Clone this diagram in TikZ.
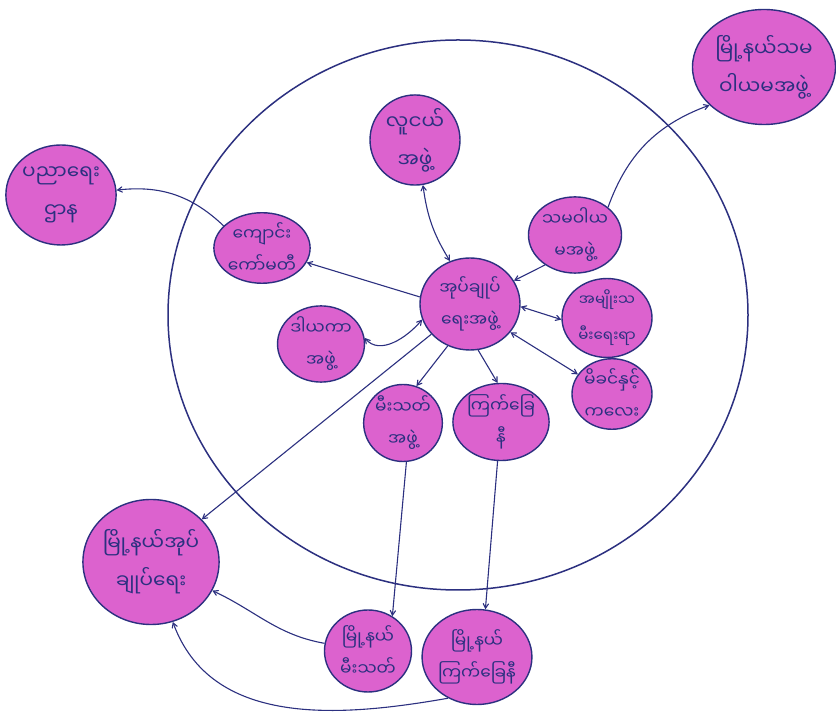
\documentclass[tikz,border=0pt]{standalone}
\usepackage{fontspec}
\usepackage{tikz}
\usetikzlibrary{arrows,shapes.geometric,calc}
\newfontfamily\mmfont[Script=Myanmar]{Noto Sans Myanmar UI}
\definecolor{hs_pink}{RGB}{220, 98, 206}
\definecolor{hs_ink}{RGB}{44, 48, 128}
\tikzstyle{pn}=[ellipse,fill=hs_pink,draw=hs_ink,line width=1.4pt,
  inner sep=0pt,text=hs_ink,align=center,font=\mmfont\fontsize{17}{32}\selectfont]
\tikzstyle{big}=[font=\mmfont\fontsize{20}{38}\selectfont]
\tikzstyle{small}=[font=\mmfont\fontsize{15}{36}\selectfont]
\tikzstyle{ring}=[ellipse,draw=hs_ink,line width=1.5pt]
\tikzstyle{link}=[draw=hs_ink,line width=1.1pt,>=angle 60]

\begin{document}
\begin{tikzpicture}[x=1pt,y=1pt]
            \useasboundingbox [fill=white] (0,0) rectangle (836,720);
            \node [style=ring,minimum width=580,minimum height=550] (0) at (458, 405) {};
            \node [style=pn,minimum width=100,minimum height=92] (1) at (470, 416) {အုပ်ချုပ်\\ရေးအဖွဲ့};
            \node [style=pn,style=big,minimum width=90,minimum height=90] (2) at (415, 580) {လူငယ်\\အဖွဲ့};
            \node [style=pn,style=big,minimum width=143,minimum height=115] (3) at (764, 653) {မြို့နယ်သမ\\ဝါယမအဖွဲ့};
            \node [style=pn,style=big,minimum width=107,minimum height=100] (4) at (61, 525) {ပညာရေး\\ဌာန};
            \node [style=pn,minimum width=81,minimum height=69] (5) at (262, 472) {ကျောင်း\\ကော်မတီ};
            \node [style=pn,minimum width=90,minimum height=70] (6) at (575, 485) {သမဝါယ\\မအဖွဲ့};
            \node [style=pn,style=small,minimum width=90,minimum height=70] (7) at (607, 402) {အမျိုးသ\\မီးရေးရာ};
            \node [style=pn,minimum width=80,minimum height=68] (8) at (612, 326) {မိခင်နှင့်\\ကလေး};
            \node [style=pn,minimum width=73,minimum height=68] (9) at (321, 376) {ဒါယကာ\\အဖွဲ့};
            \node [style=pn,minimum width=73,minimum height=77] (10) at (403, 297) {မီးသတ်\\အဖွဲ့};
            \node [style=pn,minimum width=78,minimum height=75] (11) at (501, 298) {ကြက်ခြေ\\နီ};
            \node [style=pn,style=big,minimum width=133,minimum height=125] (12) at (151, 158) {မြို့နယ်အုပ်\\ချုပ်ရေး};
            \node [style=pn,minimum width=87,minimum height=82] (13) at (368, 69) {မြို့နယ်\\မီးသတ်};
            \node [style=pn,minimum width=105,minimum height=95] (14) at (477, 63) {မြို့နယ်\\ကြက်ခြေနီ};
            \draw [style=link,<->,bend left=12] (1.115) to (2.-80);
            \draw [style=link,->] (1.172) to (5.-18);
            \draw [style=link,->] (6.225) to (1.28);
            \draw [style=link,<->] (1.-3) to (7.182);
            \draw [style=link,<->] (1.-35) to (8.150);
            \draw [style=link,<->] (9.8) to [out=-50,in=-130] (1.198);
            \draw [style=link,->] (1.-118) to (10.70);
            \draw [style=link,->] (1.-80) to (11.95);
            \draw [style=link,->,bend right=25] (5.150) to (4.5);
            \draw [style=link,->,bend left=25] (6.40) to (3.215);
            \draw [style=link,->] (1.218) to (12.40);
            \draw [style=link,->] (10.-85) to (13.55);
            \draw [style=link,->] (11.-95) to (14.80);
            \draw [style=link,->] (13.170) to [out=170,in=-25] (12);
            \draw [style=link,->] (14.235) to [out=190,in=-70] (12);
    \end{tikzpicture}
\end{document}
